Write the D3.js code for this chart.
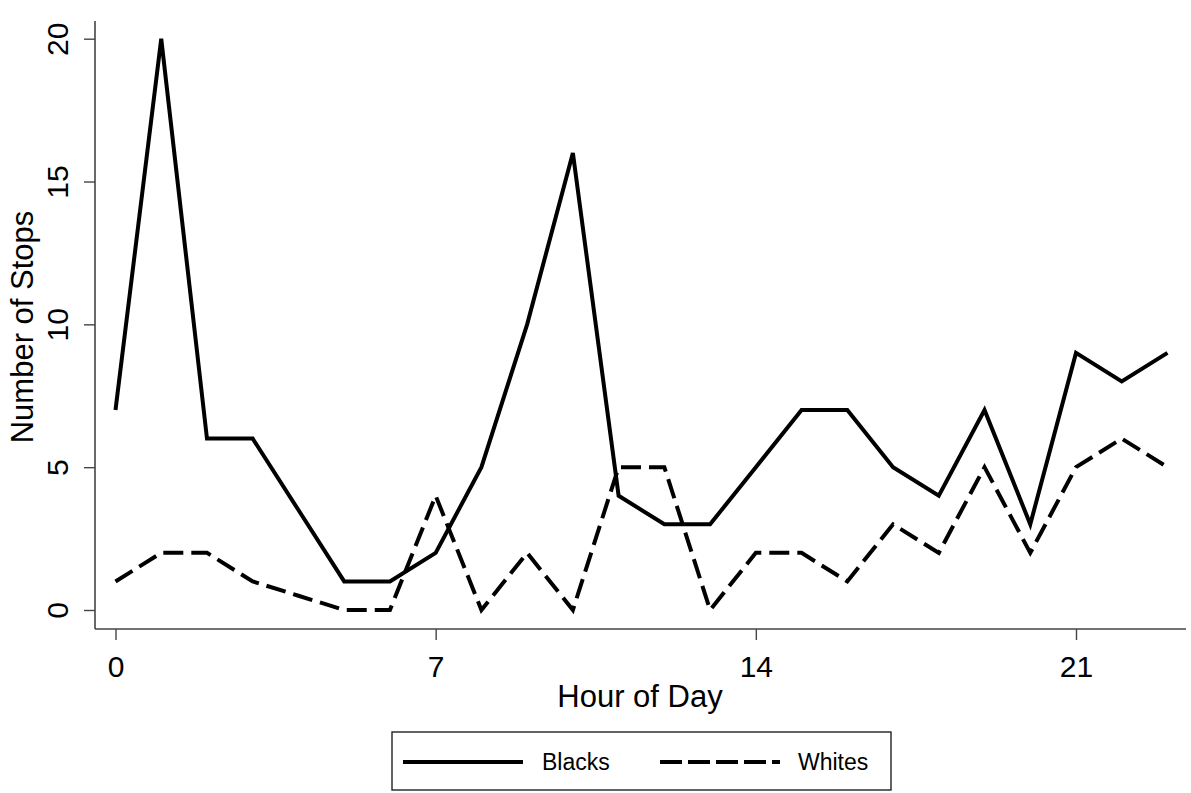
<!DOCTYPE html>
<html><head><meta charset="utf-8">
<script src="https://cdn.jsdelivr.net/npm/d3@7"></script>
<style>body{margin:0;background:#fff}svg{display:block}text{font-family:"Liberation Sans",Arial,sans-serif;fill:#000}</style>
</head><body><svg id="c" width="1191" height="793"></svg>
<script>
const hours = [0,1,2,3,4,5,6,7,8,9,10,11,12,13,14,15,16,17,18,19,20,21,22,23];
const blacks = [7,20,6,6,3.5,1,1,2,5,10,16,4,3,3,5,7,7,5,4,7,3,9,8,9];
const whites = [1,2,2,1,0.5,0,0,4,0,2,0,5,5,0,2,2,1,3,2,5,2,5,6,5];
const xTicks = [0,7,14,21];
const yTicks = [0,5,10,15,20];
const seriesNames = ["Blacks","Whites"];

(function(){
const svg = d3.select("#c");
const x = d3.scaleLinear().domain([0,21]).range([115.5,1076]);
const y = d3.scaleLinear().domain([0,20]).range([610,38.7]);
const pL = 95, pR = 1186, pT = 21, pB = 629;

svg.append("line").attr("x1",pL).attr("x2",pL).attr("y1",pT).attr("y2",pB).attr("stroke","#444").attr("stroke-width",1.6);
svg.append("line").attr("x1",pL).attr("x2",pR).attr("y1",pB).attr("y2",pB).attr("stroke","#444").attr("stroke-width",1.6);

const yAxis = svg.append("g").attr("transform",`translate(${pL},0)`)
  .call(d3.axisLeft(y).tickValues(yTicks).tickSize(11).tickPadding(0));
yAxis.select(".domain").remove();
yAxis.selectAll("line").attr("stroke","#444").attr("stroke-width",1.4);
yAxis.selectAll("text").attr("font-size",30).attr("text-anchor","middle")
  .attr("transform","translate(-27,0) rotate(-90)").attr("x",0).attr("y",0).attr("dy",0);

const xAxis = svg.append("g").attr("transform",`translate(0,${pB})`)
  .call(d3.axisBottom(x).tickValues(xTicks).tickSize(11));
xAxis.select(".domain").remove();
xAxis.selectAll("line").attr("stroke","#444").attr("stroke-width",1.4);
xAxis.selectAll("text").attr("font-size",30).attr("y",48).attr("dy",0);

svg.append("text").attr("x",640).attr("y",707).attr("text-anchor","middle").attr("font-size",31).text("Hour of Day");
svg.append("text").attr("transform","translate(33,327) rotate(-90)").attr("text-anchor","middle").attr("font-size",31).text("Number of Stops");

const line = d3.line().x((d,i)=>x(hours[i])).y(d=>y(d));
svg.append("path").datum(blacks).attr("d",line).attr("fill","none").attr("stroke","#000").attr("stroke-width",4).attr("stroke-linejoin","miter");
svg.append("path").datum(whites).attr("d",line).attr("fill","none").attr("stroke","#000").attr("stroke-width",4).attr("stroke-dasharray","20,8");

const lg = svg.append("g");
lg.append("rect").attr("x",392).attr("y",732).attr("width",499).attr("height",58).attr("fill","#fff").attr("stroke","#222").attr("stroke-width",1.4);
lg.append("line").attr("x1",403).attr("x2",523).attr("y1",762).attr("y2",762).attr("stroke","#000").attr("stroke-width",4);
lg.append("text").attr("x",542).attr("y",770).attr("font-size",23).text(seriesNames[0]);
lg.append("line").attr("x1",660).attr("x2",780).attr("y1",762).attr("y2",762).attr("stroke","#000").attr("stroke-width",4).attr("stroke-dasharray","22,6");
lg.append("text").attr("x",798).attr("y",770).attr("font-size",23).text(seriesNames[1]);
})();
</script></body></html>
